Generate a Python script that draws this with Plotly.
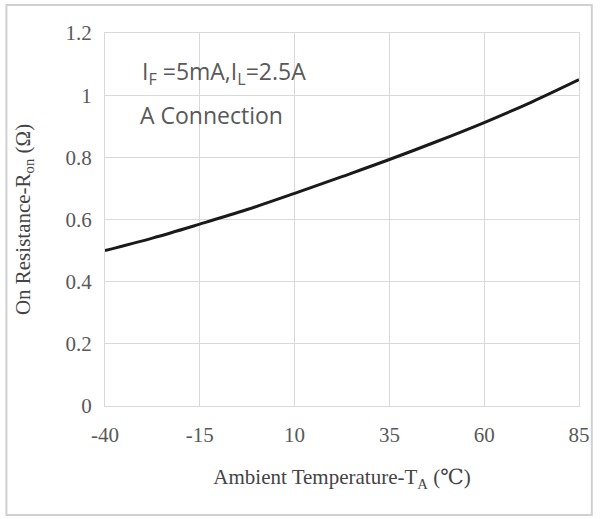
import plotly.graph_objects as go

temperature = [-40, -27.5, -15, -2.5, 10, 22.5, 35, 47.5, 60, 72.5, 85]
resistance = [0.50, 0.54, 0.585, 0.632, 0.684, 0.738, 0.793, 0.851, 0.912, 0.978, 1.05]
x_ticks = [-40, -15, 10, 35, 60, 85]
y_ticks = [0, 0.2, 0.4, 0.6, 0.8, 1.0, 1.2]
y_tick_labels = ["0", "0.2", "0.4", "0.6", "0.8", "1", "1.2"]

fig = go.Figure()
fig.add_trace(go.Scatter(
    x=temperature, y=resistance, mode="lines",
    line=dict(color="#1a1a1a", width=3, shape="spline"),
    showlegend=False, hoverinfo="skip",
))

serif = "Liberation Serif, DejaVu Serif, serif"
fig.update_layout(
    width=602, height=519,
    margin=dict(l=105, r=18, t=33, b=113),
    paper_bgcolor="white", plot_bgcolor="white",
    xaxis=dict(
        range=[-40, 85], tickvals=x_ticks, ticktext=[str(v) for v in x_ticks],
        showgrid=True, gridcolor="#d9d9d9", gridwidth=1,
        showline=True, linecolor="#d9d9d9", mirror=True, zeroline=False,
        ticks="", ticklabelstandoff=10,
        tickfont=dict(family=serif, size=21, color="#595959"),
        title=dict(text="Ambient Temperature-T<sub>A</sub> (℃)",
                   font=dict(family=serif, size=21, color="#444444"), standoff=23),
    ),
    yaxis=dict(
        range=[0, 1.2], tickvals=y_ticks, ticktext=y_tick_labels,
        showgrid=True, gridcolor="#d9d9d9", gridwidth=1,
        showline=True, linecolor="#d9d9d9", mirror=True, zeroline=False,
        ticks="", ticklabelstandoff=8,
        tickfont=dict(family=serif, size=21, color="#595959"),
        title=dict(text="On Resistance-R<sub>on</sub> (Ω)",
                   font=dict(family=serif, size=21, color="#444444"), standoff=29),
    ),
    shapes=[dict(type="rect", xref="paper", yref="paper",
                 x0=-0.208, x1=1.027, y0=-0.292, y1=1.075,
                 line=dict(color="#d0d0d0", width=2), layer="below")],
    annotations=[
        dict(x=0.073, y=0.893, xref="paper", yref="paper", xanchor="left", yanchor="middle",
             text="I<sub>F</sub> =5mA,I<sub>L</sub>=2.5A", showarrow=False,
             font=dict(family="Open Sans, sans-serif", size=23, color="#595959")),
        dict(x=0.07, y=0.78, xref="paper", yref="paper", xanchor="left", yanchor="middle",
             text="A Connection", showarrow=False,
             font=dict(family="Open Sans, sans-serif", size=23, color="#595959")),
    ],
)

fig.write_html("out.html", config={"displayModeBar": False},
               post_script="document.body.style.margin='0';")
